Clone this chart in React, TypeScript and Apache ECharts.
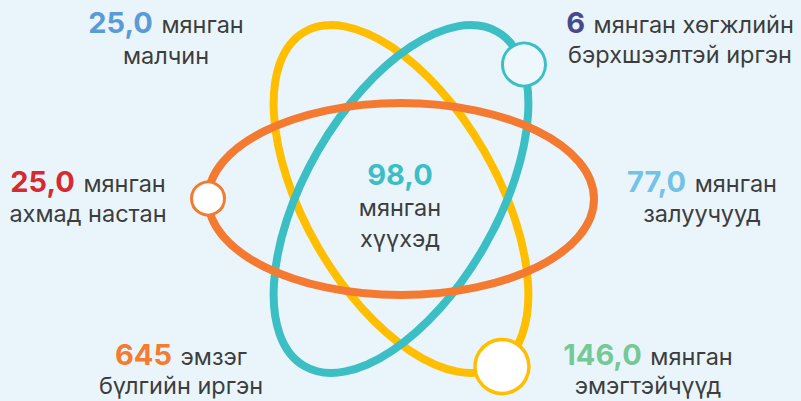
import React, { useEffect, useRef } from "react";
import * as echarts from "echarts";

// ---- data ----
const values = ["25,0", "6", "25,0", "77,0", "98,0", "645", "146,0"];
const unitLines = ["мянган", "мянган хөгжлийн", "мянган", "мянган", "мянган", "эмзэг", "мянган"];
const nameLines = ["малчин", "бэрхшээлтэй иргэн", "ахмад настан", "залуучууд", "хүүхэд", "бүлгийн иргэн", "эмэгтэйчүүд"];

// ---- styles / layout ----
const valueColors = ["#5B9BD5", "#454A8C", "#D62A33", "#74C2E4", "#3CBFC4", "#F47B30", "#76C897"];
// [centerX, baseline of first line, line gap, stacked (value on its own line)]
const layout: [number, number, number, boolean][] = [
  [166, 33, 31, false],
  [680, 33, 30, false],
  [88, 192, 30, false],
  [702, 192, 30, false],
  [400, 185, 31, true],
  [181, 365, 29, false],
  [648, 365, 29, false],
];
const FONT = "Inter, 'Open Sans', sans-serif";
const NUM_SIZE = 29;
const TXT_SIZE = 23.5;
const TXT_COLOR = "#3D3D3D";
const BG = "#EAF5FB";
const CX = 401;
const CY = 199;
const RX = 193;
const RY = 96;
const ORBITS = [
  { color: "#FFBF00", rot: -Math.PI / 3 },
  { color: "#3CBFC4", rot: Math.PI / 3 },
  { color: "#F47A31", rot: 0 },
];

function measure(text: string, font: string): number {
  const c = document.createElement("canvas").getContext("2d")!;
  c.font = font;
  return c.measureText(text).width;
}

export default function App() {
  const ref = useRef<HTMLDivElement>(null);
  useEffect(() => {
    document.body.style.margin = "0";
    const chart = echarts.init(ref.current!, undefined, { renderer: "svg" });
    const k = 0.36; // middle-to-baseline factor
    const numFont = `bold ${NUM_SIZE}px ${FONT}`;
    const txtFont = `${TXT_SIZE}px ${FONT}`;
    const graphics: any[] = [];
    ORBITS.forEach((o) => {
      graphics.push({
        type: "ellipse",
        x: CX,
        y: CY,
        rotation: o.rot,
        shape: { cx: 0, cy: 0, rx: RX, ry: RY },
        style: { fill: "none", stroke: o.color, lineWidth: 8 },
      });
    });
    graphics.push(
      { type: "circle", shape: { cx: 208, cy: 198.5, r: 16.5 }, style: { fill: "#fff", stroke: "#F47A31", lineWidth: 3 } },
      { type: "circle", shape: { cx: 524, cy: 64.5, r: 21.5 }, style: { fill: "#EEF7FC", stroke: "#3CBFC4", lineWidth: 3 } },
      { type: "circle", shape: { cx: 502, cy: 366.5, r: 27 }, style: { fill: "#fff", stroke: "#FFBF00", lineWidth: 3.5 } }
    );
    values.forEach((v, i) => {
      const [cx, base, gap, stacked] = layout[i];
      if (stacked) {
        graphics.push({
          type: "text", x: cx, y: base - k * NUM_SIZE,
          style: { text: v, font: numFont, fill: valueColors[i], align: "center", verticalAlign: "middle" },
        });
        graphics.push({
          type: "text", x: cx, y: base + gap - k * TXT_SIZE,
          style: { text: unitLines[i], font: txtFont, fill: TXT_COLOR, align: "center", verticalAlign: "middle" },
        });
        graphics.push({
          type: "text", x: cx, y: base + 2 * gap - k * TXT_SIZE,
          style: { text: nameLines[i], font: txtFont, fill: TXT_COLOR, align: "center", verticalAlign: "middle" },
        });
      } else {
        const wn = measure(v, numFont);
        const ws = measure(" ", txtFont) + 2;
        const wu = measure(unitLines[i], txtFont);
        const left = cx - (wn + ws + wu) / 2;
        graphics.push({
          type: "text", x: left, y: base - k * NUM_SIZE,
          style: { text: v, font: numFont, fill: valueColors[i], align: "left", verticalAlign: "middle" },
        });
        graphics.push({
          type: "text", x: left + wn + ws, y: base - k * TXT_SIZE,
          style: { text: unitLines[i], font: txtFont, fill: TXT_COLOR, align: "left", verticalAlign: "middle" },
        });
        graphics.push({
          type: "text", x: cx, y: base + gap - k * TXT_SIZE,
          style: { text: nameLines[i], font: txtFont, fill: TXT_COLOR, align: "center", verticalAlign: "middle" },
        });
      }
    });
    chart.setOption({ animation: false, backgroundColor: BG, graphic: graphics });
    return () => chart.dispose();
  }, []);
  return <div ref={ref} style={{ width: 801, height: 401 }} />;
}
